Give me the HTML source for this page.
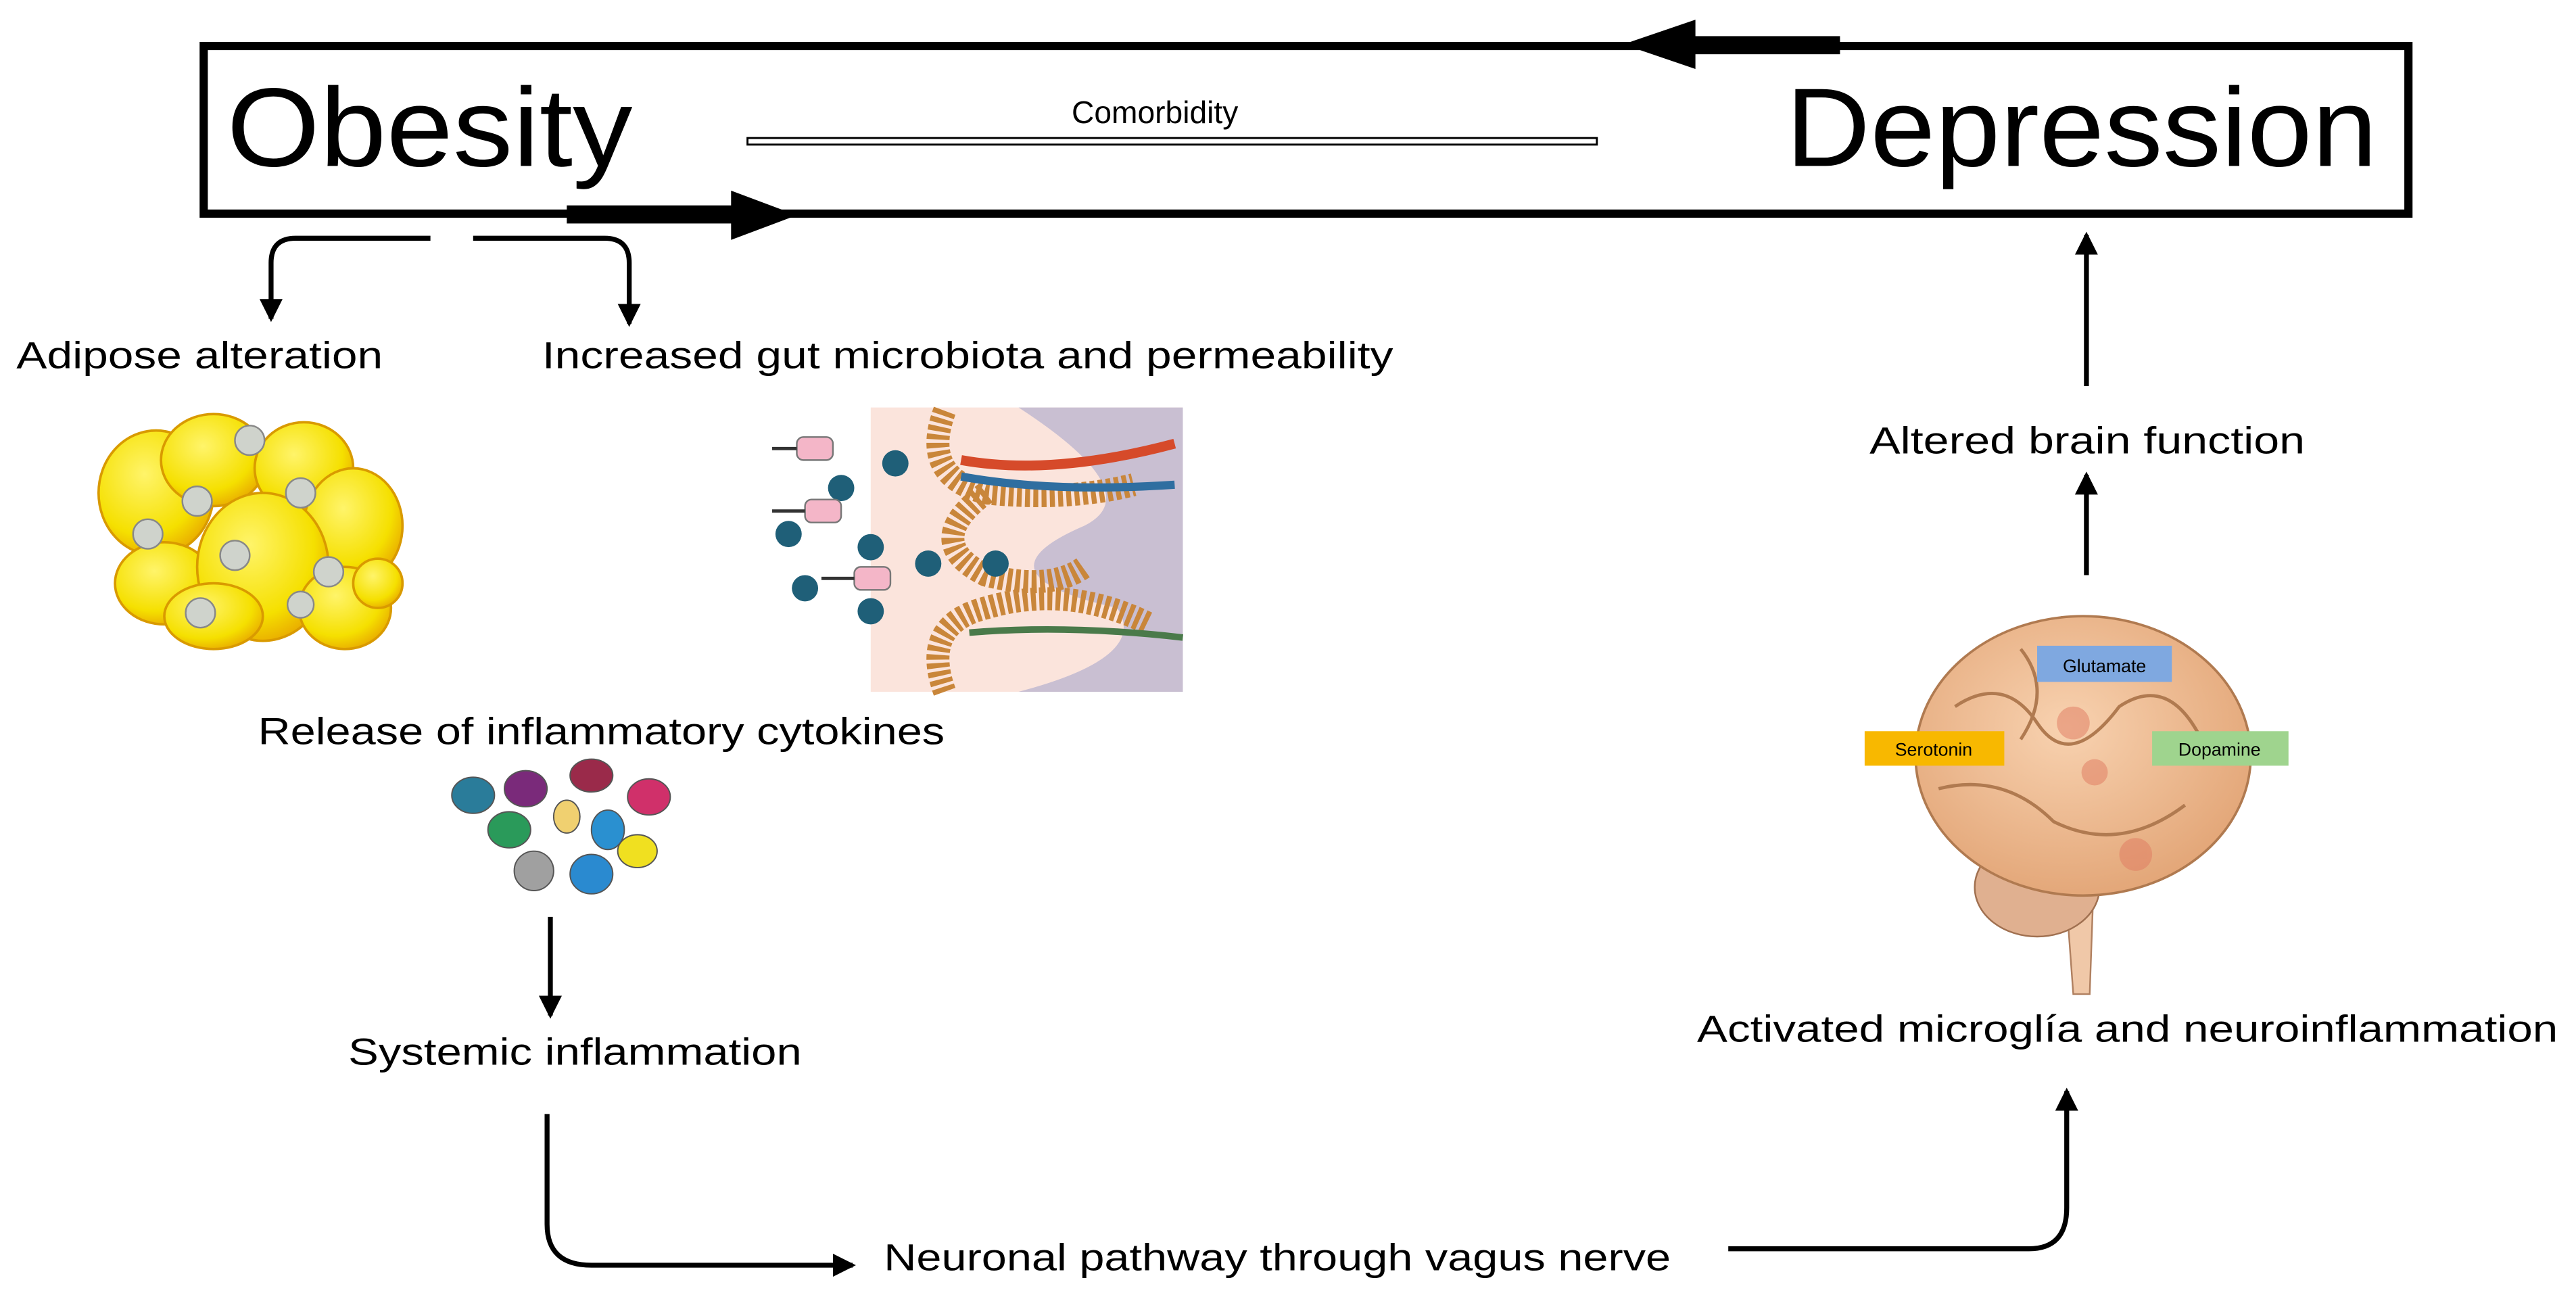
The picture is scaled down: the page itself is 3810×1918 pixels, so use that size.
<!DOCTYPE html>
<html><head><meta charset="utf-8"><style>html,body{margin:0;padding:0;background:#fff}svg{display:block}</style></head>
<body>
<svg width="3810" height="1918" viewBox="0 0 1568 789.35" preserveAspectRatio="none" xmlns="http://www.w3.org/2000/svg" font-family="Liberation Sans, sans-serif">
<defs>
<marker id="ah" markerWidth="16" markerHeight="16" refX="12" refY="7" orient="auto" markerUnits="userSpaceOnUse"><path d="M0,0 L14,7 L0,14 z" fill="#000"/></marker>
<radialGradient id="yel" cx="0.4" cy="0.35" r="0.7"><stop offset="0" stop-color="#fff46a"/><stop offset="0.7" stop-color="#f5e000"/><stop offset="1" stop-color="#e8a800"/></radialGradient>
<radialGradient id="brn" cx="0.45" cy="0.4" r="0.7"><stop offset="0" stop-color="#f8d2b0"/><stop offset="1" stop-color="#e0a070"/></radialGradient>
</defs>
<rect x="124" y="28" width="1342" height="102" fill="#fff" stroke="#000" stroke-width="5"/>
<rect x="1025" y="22" width="95" height="11" fill="#000"/>
<path d="M988,27 L1032,12 L1032,42 z" fill="#000"/>
<rect x="345" y="125" width="110" height="11" fill="#000"/>
<path d="M485,131 L445,116 L445,146 z" fill="#000"/>
<text x="138" y="101" font-size="68" textLength="247" lengthAdjust="spacingAndGlyphs">Obesity</text>
<text x="1087" y="101" font-size="68" textLength="360" lengthAdjust="spacingAndGlyphs">Depression</text>
<text x="703" y="75" font-size="19" text-anchor="middle">Comorbidity</text>
<rect x="455" y="84" width="517" height="4" fill="#fff" stroke="#000" stroke-width="1.2"/>
<path d="M262,145 L180,145 Q165,145 165,160 L165,194" fill="none" stroke="#000" stroke-width="3" marker-end="url(#ah)"/>
<path d="M288,145 L368,145 Q383,145 383,160 L383,197" fill="none" stroke="#000" stroke-width="3" marker-end="url(#ah)"/>
<g font-size="23">
<text x="10" y="224" textLength="223" lengthAdjust="spacingAndGlyphs">Adipose alteration</text>
<text x="330" y="224" textLength="518" lengthAdjust="spacingAndGlyphs">Increased gut microbiota and permeability</text>
<text x="157" y="453" textLength="418" lengthAdjust="spacingAndGlyphs">Release of inflammatory cytokines</text>
<text x="212" y="648" textLength="276" lengthAdjust="spacingAndGlyphs">Systemic inflammation</text>
<text x="538" y="773" textLength="479" lengthAdjust="spacingAndGlyphs">Neuronal pathway through vagus nerve</text>
<text x="1033" y="634" textLength="524" lengthAdjust="spacingAndGlyphs">Activated microglía and neuroinflammation</text>
<text x="1138" y="276" textLength="265" lengthAdjust="spacingAndGlyphs">Altered brain function</text>
</g>
<g stroke="#d99a00" stroke-width="1.5" fill="url(#yel)">
<ellipse cx="95" cy="300" rx="35" ry="38"/>
<ellipse cx="130" cy="280" rx="32" ry="28"/>
<ellipse cx="185" cy="285" rx="30" ry="28"/>
<ellipse cx="215" cy="320" rx="30" ry="35"/>
<ellipse cx="100" cy="355" rx="30" ry="25"/>
<ellipse cx="160" cy="345" rx="40" ry="45"/>
<ellipse cx="210" cy="370" rx="28" ry="25"/>
<ellipse cx="130" cy="375" rx="30" ry="20"/>
<ellipse cx="230" cy="355" rx="15" ry="15"/>
</g>
<g fill="#cfd3cc" stroke="#888" stroke-width="1">
<circle cx="152" cy="268" r="9"/><circle cx="120" cy="305" r="9"/><circle cx="183" cy="300" r="9"/><circle cx="90" cy="325" r="9"/><circle cx="143" cy="338" r="9"/><circle cx="200" cy="348" r="9"/><circle cx="122" cy="373" r="9"/><circle cx="183" cy="368" r="8"/>
</g>
<rect x="530" y="248" width="190" height="173" fill="#fbe4dc"/>
<path d="M620,248 L720,248 L720,421 L620,421 Q700,400 680,370 Q590,350 660,320 Q700,300 620,248 z" fill="#c9bfd2"/>
<path d="M575,250 Q560,290 600,300 Q650,305 690,295 M575,421 Q560,380 600,370 Q650,355 700,380 M600,300 Q560,330 600,350 Q640,360 660,345" fill="none" stroke="#c9863a" stroke-width="14" stroke-dasharray="3 2"/>
<path d="M585,280 Q640,290 715,270" fill="none" stroke="#d64a2a" stroke-width="6"/>
<path d="M585,290 Q640,300 715,295" fill="none" stroke="#2f6ea0" stroke-width="5"/>
<path d="M590,385 Q650,380 720,388" fill="none" stroke="#4a7a4a" stroke-width="4"/>
<g fill="#1f5f78"><circle cx="512" cy="297" r="8"/><circle cx="545" cy="282" r="8"/><circle cx="480" cy="325" r="8"/><circle cx="530" cy="333" r="8"/><circle cx="490" cy="358" r="8"/><circle cx="565" cy="343" r="8"/><circle cx="606" cy="343" r="8"/><circle cx="530" cy="372" r="8"/></g>
<g fill="#f4b6c8" stroke="#777"><rect x="485" y="266" width="22" height="14" rx="4"/><rect x="490" y="304" width="22" height="14" rx="4"/><rect x="520" y="345" width="22" height="14" rx="4"/></g>
<g stroke="#333" stroke-width="2"><path d="M470,273 L485,273 M470,311 L490,311 M500,352 L520,352"/></g>
<g stroke="#555" stroke-width="0.8">
<ellipse cx="288" cy="484" rx="13" ry="11" fill="#2a7c9a"/>
<ellipse cx="320" cy="480" rx="13" ry="11" fill="#7a2a7a"/>
<ellipse cx="360" cy="472" rx="13" ry="10" fill="#9a2a4a"/>
<ellipse cx="395" cy="485" rx="13" ry="11" fill="#d0306a"/>
<ellipse cx="310" cy="505" rx="13" ry="11" fill="#2a9a5a"/>
<ellipse cx="345" cy="497" rx="8" ry="10" fill="#f0d070"/>
<ellipse cx="370" cy="505" rx="10" ry="12" fill="#2a90d0"/>
<ellipse cx="388" cy="518" rx="12" ry="10" fill="#f0e020"/>
<ellipse cx="325" cy="530" rx="12" ry="12" fill="#a0a0a0"/>
<ellipse cx="360" cy="532" rx="13" ry="12" fill="#2a8ad0"/>
</g>
<path d="M335,558 L335,618" stroke="#000" stroke-width="3" marker-end="url(#ah)"/>
<path d="M333,678 L333,745 Q333,770 360,770 L519,770" fill="none" stroke="#000" stroke-width="3" marker-end="url(#ah)"/>
<path d="M1052,760 L1235,760 Q1258,760 1258,735 L1258,664" fill="none" stroke="#000" stroke-width="3" marker-end="url(#ah)"/>
<path d="M1270,350 L1270,289" stroke="#000" stroke-width="3" marker-end="url(#ah)"/>
<path d="M1270,235 L1270,143" stroke="#000" stroke-width="3" marker-end="url(#ah)"/>
<path d="M1255,510 L1262,605 L1272,605 L1275,520 z" fill="#f0c8a8" stroke="#b08060"/>
<ellipse cx="1240" cy="540" rx="38" ry="30" fill="#e0b090" stroke="#a07050"/>
<ellipse cx="1268" cy="460" rx="102" ry="85" fill="url(#brn)" stroke="#b07a50" stroke-width="1.5"/>
<path d="M1190,430 Q1220,410 1240,440 Q1260,470 1290,430 Q1320,410 1340,450 M1180,480 Q1220,470 1250,500 Q1290,520 1330,490 M1230,395 Q1250,420 1230,450" fill="none" stroke="#b07a50" stroke-width="2"/>
<g fill="#e07a60" opacity="0.5"><circle cx="1262" cy="440" r="10"/><circle cx="1275" cy="470" r="8"/><circle cx="1300" cy="520" r="10"/></g>
<rect x="1240" y="393" width="82" height="22" fill="#7fa8e0"/>
<text x="1281" y="409" font-size="11" text-anchor="middle">Glutamate</text>
<rect x="1135" y="445" width="85" height="21" fill="#f8b800"/>
<text x="1177" y="460" font-size="11" text-anchor="middle">Serotonin</text>
<rect x="1310" y="445" width="83" height="21" fill="#9fd48e"/>
<text x="1351" y="460" font-size="11" text-anchor="middle">Dopamine</text>
</svg>
</body></html>
